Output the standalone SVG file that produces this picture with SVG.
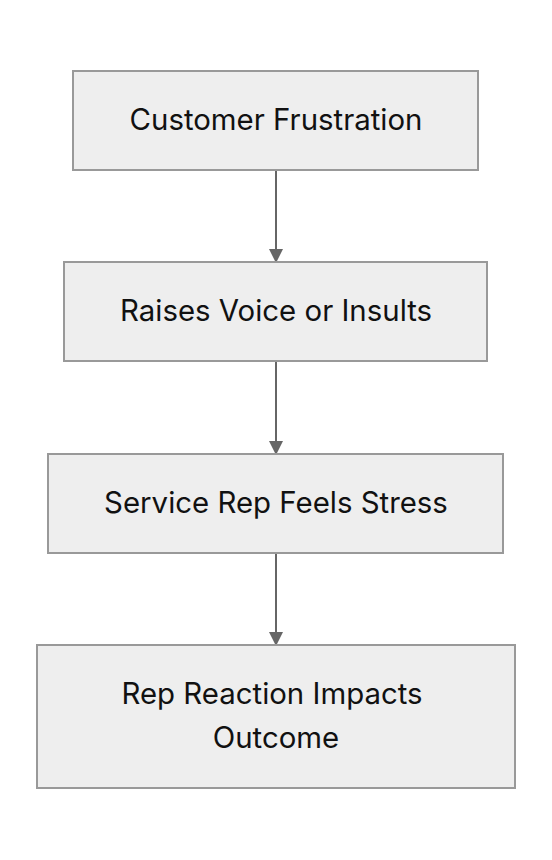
<svg xmlns="http://www.w3.org/2000/svg" width="552" height="860" viewBox="0 0 552 860">
<style>
.box{fill:#eeeeee;stroke:#999999;stroke-width:2}
.lbl{font-family:Inter,"Noto Sans",sans-serif;font-size:29.4px;fill:#111111;text-anchor:middle;dominant-baseline:central}
.edge{stroke:#666666;stroke-width:2;fill:none}
</style>
<defs>
<marker id="arr" viewBox="0 0 14 14" refX="13" refY="7" markerWidth="14" markerHeight="14" markerUnits="userSpaceOnUse" orient="auto">
<path d="M0,0 L14,7 L0,14 Z" fill="#666666"/>
</marker>
</defs>
<rect width="552" height="860" fill="#ffffff"/>
<g id="connectors">
<line class="edge" x1="276" y1="170" x2="276" y2="262" marker-end="url(#arr)"/>
<line class="edge" x1="276" y1="361" x2="276" y2="454" marker-end="url(#arr)"/>
<line class="edge" x1="276" y1="553" x2="276" y2="645" marker-end="url(#arr)"/>
</g>
<g id="n1">
<rect class="box" x="73" y="71" width="405" height="99"/>
<text class="lbl" x="276" y="119">Customer Frustration</text>
</g>
<g id="n2">
<rect class="box" x="64" y="262" width="423" height="99"/>
<text class="lbl" x="276" y="310">Raises Voice or Insults</text>
</g>
<g id="n3">
<rect class="box" x="48" y="454" width="455" height="99"/>
<text class="lbl" x="276" y="502">Service Rep Feels Stress</text>
</g>
<g id="n4">
<rect class="box" x="37" y="645" width="478" height="143"/>
<text class="lbl" x="272" y="693">Rep Reaction Impacts</text>
<text class="lbl" x="276" y="737">Outcome</text>
</g>
</svg>
